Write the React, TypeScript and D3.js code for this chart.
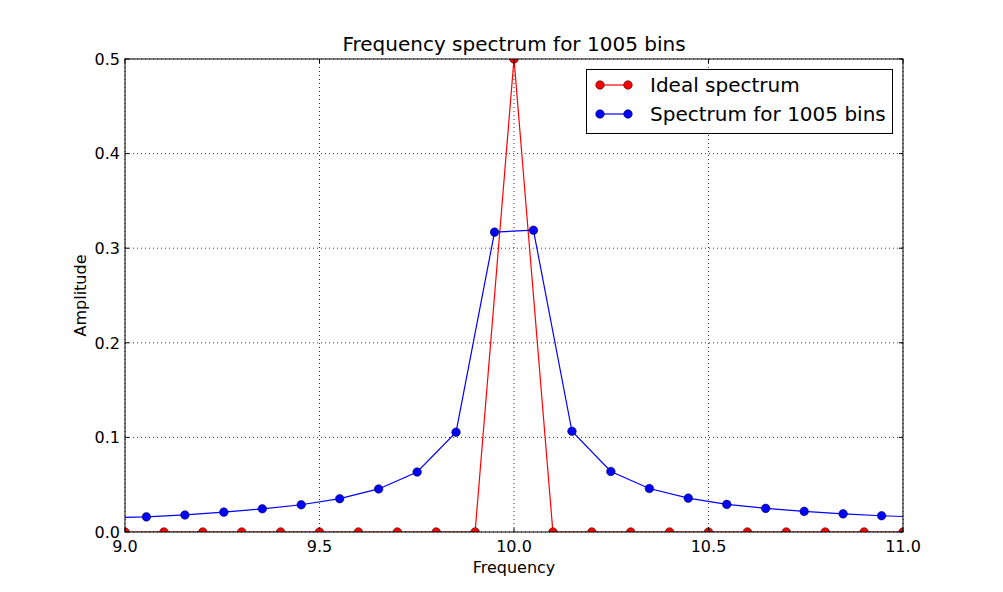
import React from "react";
import * as d3 from "d3";

const idealFreq = [8.9, 9.0, 9.1, 9.2, 9.3, 9.4, 9.5, 9.6, 9.7, 9.8, 9.9, 10.0, 10.1, 10.2, 10.3, 10.4, 10.5, 10.6, 10.7, 10.8, 10.9, 11.0, 11.1];
const idealAmp = [0, 0, 0, 0, 0, 0, 0, 0, 0, 0, 0, 0.5, 0, 0, 0, 0, 0, 0, 0, 0, 0, 0, 0];

const binFreq = [8.955, 9.055, 9.154, 9.254, 9.353, 9.453, 9.552, 9.652, 9.751, 9.851, 9.950, 10.050, 10.149, 10.249, 10.348, 10.448, 10.547, 10.647, 10.746, 10.846, 10.945, 11.045];
const binAmp = [0.0150, 0.0160, 0.0180, 0.0210, 0.0245, 0.0288, 0.0352, 0.0455, 0.0634, 0.1055, 0.3170, 0.3190, 0.1065, 0.0640, 0.0460, 0.0358, 0.0292, 0.0250, 0.0218, 0.0192, 0.0172, 0.0157];

const xTicks = [9.0, 9.5, 10.0, 10.5, 11.0];
const yTicks = [0.0, 0.1, 0.2, 0.3, 0.4, 0.5];

const seriesNames = ["Ideal spectrum", "Spectrum for 1005 bins"];
const seriesColors = ["#ff0000", "#0000ff"];

const W = 1003, H = 592;
const L = 125, R = 903, T = 59, B = 532;
const FONT = "DejaVu Sans, sans-serif";

export default function App() {
  const x = d3.scaleLinear().domain([9.0, 11.0]).range([L, R]);
  const y = d3.scaleLinear().domain([0, 0.5]).range([B, T]);
  const line = d3.line<[number, number]>().x(d => x(d[0])).y(d => y(d[1]));
  const series = [
    idealFreq.map((f, i) => [f, idealAmp[i]] as [number, number]),
    binFreq.map((f, i) => [f, binAmp[i]] as [number, number]),
  ];
  const tl = 4;
  return (
    <svg width={W} height={H} style={{ position: "absolute", left: 0, top: 0, display: "block", background: "#fff" }} fontFamily={FONT}>
      <defs>
        <clipPath id="plotclip">
          <rect x={L} y={T} width={R - L} height={B - T} />
        </clipPath>
      </defs>
      <rect x={0} y={0} width={W} height={H} fill="#fff" />
      {/* grid */}
      {xTicks.map((t, i) => (
        <line key={"gx" + i} x1={x(t)} x2={x(t)} y1={T} y2={B} stroke="#000" strokeWidth={0.8} strokeDasharray="1,3" />
      ))}
      {yTicks.map((t, i) => (
        <line key={"gy" + i} x1={L} x2={R} y1={y(t)} y2={y(t)} stroke="#000" strokeWidth={0.8} strokeDasharray="1,3" />
      ))}
      {/* series */}
      <g clipPath="url(#plotclip)">
        {series.map((s, si) => (
          <g key={"s" + si}>
            <path d={line(s) || ""} fill="none" stroke={seriesColors[si]} strokeWidth={1.2} />
            {s.map((p, pi) => (
              <circle key={pi} cx={x(p[0])} cy={y(p[1])} r={4.3} fill={seriesColors[si]} stroke="#000" strokeWidth={0.5} />
            ))}
          </g>
        ))}
      </g>
      {/* frame */}
      <rect x={L} y={T} width={R - L} height={B - T} fill="none" stroke="#000" strokeWidth={1} />
      {/* ticks */}
      {xTicks.map((t, i) => (
        <g key={"tx" + i}>
          <line x1={x(t)} x2={x(t)} y1={B} y2={B - tl} stroke="#000" />
          <line x1={x(t)} x2={x(t)} y1={T} y2={T + tl} stroke="#000" />
          <text x={x(t)} y={551.5} textAnchor="middle" fontSize={16}>{t.toFixed(1)}</text>
        </g>
      ))}
      {yTicks.map((t, i) => (
        <g key={"ty" + i}>
          <line x1={L} x2={L + tl} y1={y(t)} y2={y(t)} stroke="#000" />
          <line x1={R} x2={R - tl} y1={y(t)} y2={y(t)} stroke="#000" />
          <text x={120} y={y(t)} dy="0.36em" textAnchor="end" fontSize={16}>{t.toFixed(1)}</text>
        </g>
      ))}
      {/* labels */}
      <text x={(L + R) / 2} y={51} textAnchor="middle" fontSize={20}>Frequency spectrum for 1005 bins</text>
      <text x={(L + R) / 2} y={573} textAnchor="middle" fontSize={16}>Frequency</text>
      <text transform={`translate(86,${(T + B) / 2}) rotate(-90)`} textAnchor="middle" fontSize={16}>Amplitude</text>
      {/* legend */}
      <g>
        <rect x={586.5} y={69.5} width={306} height={64} fill="#fff" stroke="#000" strokeWidth={1} />
        {seriesNames.map((n, i) => {
          const cy = 85 + i * 29;
          return (
            <g key={"lg" + i}>
              <line x1={600} x2={628} y1={cy} y2={cy} stroke={seriesColors[i]} strokeWidth={1.2} />
              <circle cx={600} cy={cy} r={4.3} fill={seriesColors[i]} stroke="#000" strokeWidth={0.5} />
              <circle cx={628} cy={cy} r={4.3} fill={seriesColors[i]} stroke="#000" strokeWidth={0.5} />
              <text x={650} y={cy} dy="0.36em" fontSize={20}>{n}</text>
            </g>
          );
        })}
      </g>
    </svg>
  );
}
